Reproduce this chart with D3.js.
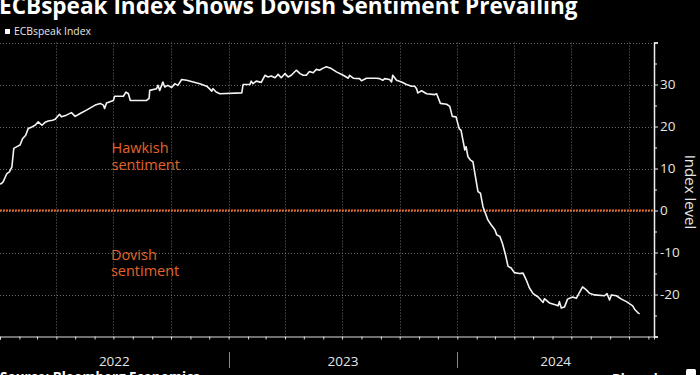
<!DOCTYPE html>
<html><head><meta charset="utf-8">
<script src="https://cdn.jsdelivr.net/npm/d3@7/dist/d3.min.js"></script>
<style>body{margin:0;background:#000;overflow:hidden}svg{display:block}</style>
</head><body><svg id="c" width="700" height="375"></svg>
<script>
const title = "ECBspeak Index Shows Dovish Sentiment Prevailing";
const seriesName = "ECBspeak Index";
const yLabel = "Index level";
const sourceText = "Source: Bloomberg Economics";
const brand = "Bloomberg";
const yearLabels = ["2022", "2023", "2024"];
const yTicks = [-20, -10, 0, 10, 20, 30];
const hawkishText = ["Hawkish", "sentiment"];
const dovishText = ["Dovish", "sentiment"];

const dates = [
"2022-01-01","2022-01-03","2022-01-06","2022-01-12","2022-01-16","2022-01-20","2022-01-23","2022-01-28","2022-02-02","2022-02-06",
"2022-02-11","2022-02-15","2022-02-21","2022-02-26","2022-03-03","2022-03-09","2022-03-14","2022-03-19","2022-03-26","2022-03-30",
"2022-04-06","2022-04-09","2022-04-17","2022-04-25","2022-05-01","2022-05-09","2022-05-19","2022-06-02","2022-06-10","2022-06-15",
"2022-06-17","2022-06-20","2022-07-01","2022-07-03","2022-07-17","2022-07-21","2022-07-25","2022-07-28","2022-08-23","2022-08-27",
"2022-08-28","2022-09-08","2022-09-10","2022-09-13","2022-09-18","2022-09-21","2022-09-26","2022-10-02","2022-10-07","2022-10-12",
"2022-10-18","2022-10-26","2022-11-16","2022-11-27","2022-12-02","2022-12-05","2022-12-07","2022-12-12","2022-12-18","2023-01-22",
"2023-01-24","2023-02-04","2023-02-06","2023-02-09","2023-02-14","2023-02-22","2023-02-28","2023-03-05","2023-03-10","2023-03-16",
"2023-03-21","2023-03-26","2023-04-01","2023-04-06","2023-04-11","2023-04-19","2023-04-25","2023-04-30","2023-05-05","2023-05-10",
"2023-05-16","2023-05-21","2023-05-26","2023-06-01","2023-06-06","2023-06-14","2023-06-22","2023-07-03","2023-07-11","2023-07-13",
"2023-07-19","2023-07-29","2023-08-01","2023-08-09","2023-08-25","2023-08-30","2023-09-04","2023-09-07","2023-09-15","2023-09-18",
"2023-09-20","2023-09-26","2023-10-04","2023-10-12","2023-10-20","2023-10-25","2023-10-28","2023-10-30","2023-11-05","2023-11-13",
"2023-11-26","2023-11-29","2023-12-05","2023-12-15","2023-12-20","2023-12-24","2023-12-30","2024-01-04","2024-01-07","2024-01-13",
"2024-01-15","2024-01-18","2024-01-22","2024-01-26","2024-01-30","2024-02-03","2024-02-07","2024-02-11","2024-02-15","2024-02-19",
"2024-02-24","2024-03-01","2024-03-04","2024-03-09","2024-03-13","2024-03-18","2024-03-22","2024-03-27","2024-04-01","2024-04-09",
"2024-04-15","2024-04-20","2024-04-25","2024-05-01","2024-05-09","2024-05-17","2024-05-19","2024-05-27","2024-06-04","2024-06-10",
"2024-06-12","2024-06-15","2024-06-20","2024-06-25","2024-07-03","2024-07-09","2024-07-13","2024-07-19","2024-07-25","2024-07-30",
"2024-08-07","2024-08-23","2024-08-27","2024-08-31","2024-09-03","2024-09-11","2024-09-19","2024-09-27","2024-10-07","2024-10-10",
"2024-10-15","2024-10-18"];
const values = [
6.3,6.4,6.8,8.8,9.2,10.4,14.8,15.2,15.6,17.1,
17.9,19.5,19.9,20.3,21.1,20.3,21.0,21.3,21.5,21.7,
22.9,22.3,22.7,23.3,22.4,23.1,23.9,25.1,25.5,25.1,
24.3,25.6,26.2,27.2,27.2,28.2,27.8,26.2,26.2,26.7,
28.6,29.0,29.8,28.6,30.6,29.4,29.8,29.3,30.2,29.8,
31.2,31.0,30.2,29.6,28.9,28.4,29.0,28.2,27.8,28.0,
30.0,30.0,30.8,30.2,30.8,30.5,32.2,31.8,32.0,31.6,
32.4,31.6,32.6,31.8,32.2,33.4,32.6,32.2,32.2,33.1,
32.8,33.6,33.4,33.9,34.2,33.8,33.0,32.2,31.5,32.2,
31.5,31.4,30.9,31.5,31.5,31.4,31.0,31.4,31.2,30.6,
32.2,31.0,30.6,30.0,29.6,29.6,29.0,28.0,28.5,27.8,
27.6,27.8,25.5,25.3,24.8,22.4,22.3,19.5,19.1,14.4,
15.2,12.8,12.0,11.6,8.0,4.5,4.1,0.9,-0.7,-2.3,
-3.4,-4.6,-5.8,-6.2,-7.8,-10.6,-13.3,-13.7,-14.8,-15.0,
-14.9,-16.5,-18.4,-19.8,-20.6,-21.9,-21.0,-22.0,-22.4,-22.7,
-21.7,-23.2,-23.0,-21.1,-20.6,-20.9,-19.8,-18.2,-18.9,-19.7,
-20.1,-20.3,-19.8,-21.3,-20.1,-20.3,-21.1,-21.7,-22.7,-23.5,
-24.3,-24.6];

const parse = d3.timeParse("%Y-%m-%d");
const data = dates.map((d, i) => ({date: parse(d), value: values[i]}));

const svg = d3.select("#c");
const W = 700, H = 375;
const plotLeft = 0, plotRight = 654, plotTop = 42.5, plotBottom = 336.5;
const xStart = parse("2022-01-01"), xEnd = parse("2024-11-10");
const x = d3.scaleTime().domain([xStart, xEnd]).range([plotLeft, plotRight]);
const y = d3.scaleLinear().domain([-30, 40]).range([plotBottom, plotTop]);

svg.append("rect").attr("width", W).attr("height", H).attr("fill", "#000");

const FONT = "'Open Sans', 'Noto Sans', sans-serif";
const gridColor = "#6a6a6a";

// horizontal grid
svg.append("g").selectAll("line").data(d3.range(-20, 41, 10)).join("line")
  .attr("x1", plotLeft).attr("x2", plotRight)
  .attr("y1", d => Math.round(y(d)) + 0.5).attr("y2", d => Math.round(y(d)) + 0.5)
  .attr("stroke", gridColor).attr("stroke-width", 1).attr("stroke-dasharray", "1,2");

// vertical grid at quarters
const quarters = d3.timeMonth.every(3).range(d3.timeDay.offset(xStart, 1), xEnd);
svg.append("g").selectAll("line").data(quarters).join("line")
  .attr("x1", d => Math.round(x(d)) + 0.5).attr("x2", d => Math.round(x(d)) + 0.5)
  .attr("y1", plotTop).attr("y2", plotBottom)
  .attr("stroke", gridColor).attr("stroke-width", 1).attr("stroke-dasharray", "1,2");

// zero line
svg.append("line")
  .attr("x1", plotLeft).attr("x2", plotRight)
  .attr("y1", y(0)).attr("y2", y(0))
  .attr("stroke", "#e2642b").attr("stroke-width", 2).attr("stroke-dasharray", "2,1");

// bottom axis
const xAxis = d3.axisBottom(x)
  .ticks(d3.timeMonth.every(1)).tickSize(3).tickFormat("");
const gx = svg.append("g").attr("transform", `translate(0,${plotBottom})`).call(xAxis);
gx.select(".domain").attr("stroke", "#ddd").attr("stroke-width", 1);
gx.selectAll(".tick line").attr("stroke", "#ddd");

// year separators and labels
const years = [parse("2022-01-01"), parse("2023-01-01"), parse("2024-01-01"), parse("2025-01-01")];
svg.append("g").selectAll("line").data(years.slice(1, 3)).join("line")
  .attr("x1", d => Math.round(x(d)) + 0.5).attr("x2", d => Math.round(x(d)) + 0.5)
  .attr("y1", 352).attr("y2", 368)
  .attr("stroke", "#888").attr("stroke-width", 1);
svg.append("g").selectAll("text").data(yearLabels).join("text")
  .attr("x", (d, i) => (x(years[i]) + Math.min(x(years[i + 1]), plotRight)) / 2)
  .attr("y", 365.5)
  .attr("text-anchor", "middle")
  .attr("fill", "#e6e6e6").attr("font-family", FONT).attr("font-size", 13.5)
  .text(d => d);

// right axis
const yAxis = d3.axisRight(y).tickValues(d3.range(-30, 41, 5)).tickSize(4)
  .tickFormat(d => yTicks.includes(d) ? String(d) : "");
const gy = svg.append("g").attr("transform", `translate(${plotRight},0)`).call(yAxis);
gy.select(".domain").attr("stroke", "#eee").attr("stroke-width", 1.5);
gy.selectAll(".tick line").attr("stroke", "#eee")
  .attr("x2", d => d % 10 === 0 ? 4 : 3);
gy.selectAll(".tick text").attr("fill", "#e6e6e6").attr("font-family", FONT)
  .attr("font-size", 13.5).attr("x", 6);

// y label
svg.append("text")
  .attr("transform", `translate(685,192) rotate(90)`)
  .attr("text-anchor", "middle")
  .attr("fill", "#e6e6e6").attr("font-family", FONT).attr("font-size", 15)
  .text(yLabel);

// series line
const line = d3.line().x(d => x(d.date)).y(d => y(d.value));
svg.append("path").datum(data)
  .attr("d", line).attr("fill", "none")
  .attr("stroke", "#f4f4f4").attr("stroke-width", 1.6)
  .attr("stroke-linejoin", "round");

// annotations (one text element per line)
const annColor = "#e2642b";
function annotate(lines, date, val) {
  lines.forEach((l, i) => {
    svg.append("text").attr("fill", annColor).attr("font-family", FONT).attr("font-size", 14.5)
      .attr("x", x(parse(date))).attr("y", y(val) + i * 16.5).text(l);
  });
}
annotate(hawkishText, "2022-06-28", 13.6);
annotate(dovishText, "2022-06-27", -11.7);

// title
const tt = svg.append("text").attr("x", -1).attr("y", 14)
  .attr("fill", "#fff").attr("font-family", FONT).attr("font-weight", 700)
  .attr("font-size", 21).text(title);
const tw = tt.node().getComputedTextLength();
tt.attr("font-size", 21 * 579 / tw);

// legend
svg.append("rect").attr("x", 5).attr("y", 29).attr("width", 5).attr("height", 5).attr("fill", "#fff");
const lg = svg.append("text").attr("x", 14).attr("y", 35)
  .attr("fill", "#e6e6e6").attr("font-family", FONT).attr("font-size", 10).text(seriesName);
const lw = lg.node().getComputedTextLength();
lg.attr("font-size", 10 * 77 / lw);

// footer
const st = svg.append("text").attr("x", 0).attr("y", 382)
  .attr("fill", "#fff").attr("font-family", FONT).attr("font-weight", 700)
  .attr("font-size", 15).text(sourceText);
const sw = st.node().getComputedTextLength();
st.attr("font-size", 15 * 200 / sw);
const bt = svg.append("text").attr("x", 612).attr("y", 383)
  .attr("fill", "#fff").attr("font-family", FONT).attr("font-weight", 700)
  .attr("font-size", 15).text(brand);
const bw = bt.node().getComputedTextLength();
bt.attr("font-size", 15 * 71 / bw);
svg.append("rect").attr("x", 686).attr("y", 369).attr("width", 10).attr("height", 12)
  .attr("rx", 1.5).attr("fill", "#fff");
</script></body></html>
